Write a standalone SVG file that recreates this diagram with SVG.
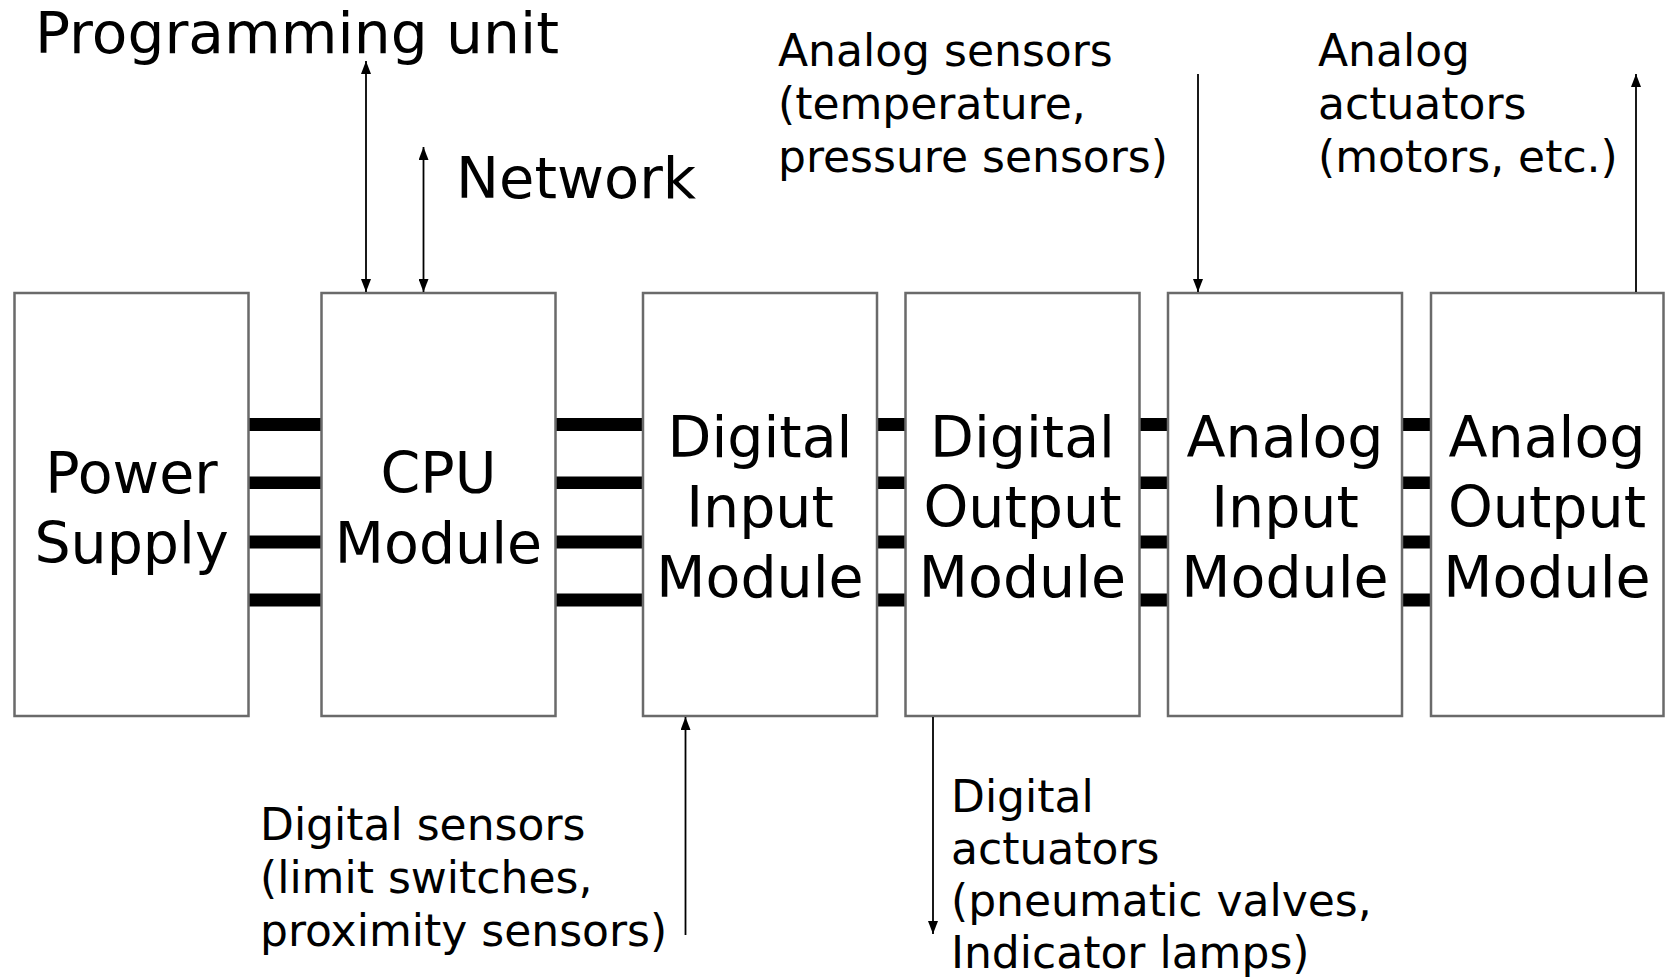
<svg xmlns="http://www.w3.org/2000/svg" width="1665" height="978" viewBox="0 0 1665 978">
<style>
.box{fill:#fff;stroke:#6a6a6a;stroke-width:2.5}
.big{font-family:"DejaVu Sans",Verdana,sans-serif;font-size:57px;fill:#000;text-anchor:middle}
.lbl{font-family:"DejaVu Sans",Verdana,sans-serif;font-size:44px;fill:#000}
.top{font-family:"DejaVu Sans",Verdana,sans-serif;font-size:57.5px;fill:#000}
.bar{fill:#000}
.wire{stroke:#000;stroke-width:1.8;fill:none}
</style>
<defs>
<marker id="ah" viewBox="0 0 13 10" refX="13" refY="5" markerWidth="13" markerHeight="10" markerUnits="userSpaceOnUse" orient="auto-start-reverse">
<path d="M0,0 L13,5 L0,10 z" fill="#000"/>
</marker>
</defs>
<rect width="1665" height="978" fill="#fff"/>

<g id="buses">
<rect class="bar" x="248" y="418" width="73" height="13"/>
<rect class="bar" x="248" y="476.5" width="73" height="12.5"/>
<rect class="bar" x="248" y="535.5" width="73" height="13"/>
<rect class="bar" x="248" y="593.5" width="73" height="13"/>
<rect class="bar" x="555" y="418" width="88" height="13"/>
<rect class="bar" x="555" y="476.5" width="88" height="12.5"/>
<rect class="bar" x="555" y="535.5" width="88" height="13"/>
<rect class="bar" x="555" y="593.5" width="88" height="13"/>
<rect class="bar" x="876" y="418" width="30" height="13"/>
<rect class="bar" x="876" y="476.5" width="30" height="12.5"/>
<rect class="bar" x="876" y="535.5" width="30" height="13"/>
<rect class="bar" x="876" y="593.5" width="30" height="13"/>
<rect class="bar" x="1139" y="418" width="30" height="13"/>
<rect class="bar" x="1139" y="476.5" width="30" height="12.5"/>
<rect class="bar" x="1139" y="535.5" width="30" height="13"/>
<rect class="bar" x="1139" y="593.5" width="30" height="13"/>
<rect class="bar" x="1402" y="418" width="30" height="13"/>
<rect class="bar" x="1402" y="476.5" width="30" height="12.5"/>
<rect class="bar" x="1402" y="535.5" width="30" height="13"/>
<rect class="bar" x="1402" y="593.5" width="30" height="13"/>
</g>

<g id="power-supply">
<rect class="box" x="14.5" y="293" width="234" height="423"/>
<text class="big" x="131.5" y="492.5">Power</text>
<text class="big" x="131.5" y="562.5">Supply</text>
</g>
<g id="cpu-module">
<rect class="box" x="321.5" y="293" width="234" height="423"/>
<text class="big" x="438.5" y="492.5">CPU</text>
<text class="big" x="438.5" y="562.5">Module</text>
</g>
<g id="digital-input-module">
<rect class="box" x="643" y="293" width="234" height="423"/>
<text class="big" x="760" y="457">Digital</text>
<text class="big" x="760" y="527">Input</text>
<text class="big" x="760" y="597">Module</text>
</g>
<g id="digital-output-module">
<rect class="box" x="905.5" y="293" width="234" height="423"/>
<text class="big" x="1022.5" y="457">Digital</text>
<text class="big" x="1022.5" y="527">Output</text>
<text class="big" x="1022.5" y="597">Module</text>
</g>
<g id="analog-input-module">
<rect class="box" x="1168" y="293" width="234" height="423"/>
<text class="big" x="1285" y="457">Analog</text>
<text class="big" x="1285" y="527">Input</text>
<text class="big" x="1285" y="597">Module</text>
</g>
<g id="analog-output-module">
<rect class="box" x="1431" y="293" width="232.5" height="423"/>
<text class="big" x="1547" y="457">Analog</text>
<text class="big" x="1547" y="527">Output</text>
<text class="big" x="1547" y="597">Module</text>
</g>

<g id="programming-unit">
<text class="top" x="35" y="53" textLength="524" lengthAdjust="spacingAndGlyphs">Programming unit</text>
</g>
<g id="network">
<text class="top" x="456" y="198">Network</text>
</g>
<g id="analog-sensors">
<text class="lbl" x="778" y="66">Analog sensors</text>
<text class="lbl" x="778" y="119">(temperature,</text>
<text class="lbl" x="778" y="172">pressure sensors)</text>
</g>
<g id="analog-actuators">
<text class="lbl" x="1318" y="66">Analog</text>
<text class="lbl" x="1318" y="119">actuators</text>
<text class="lbl" x="1318" y="172">(motors, etc.)</text>
</g>
<g id="digital-sensors">
<text class="lbl" x="260" y="840">Digital sensors</text>
<text class="lbl" x="260" y="893">(limit switches,</text>
<text class="lbl" x="260" y="946">proximity sensors)</text>
</g>
<g id="digital-actuators">
<text class="lbl" x="951" y="812">Digital</text>
<text class="lbl" x="951" y="864">actuators</text>
<text class="lbl" x="951" y="916">(pneumatic valves,</text>
<text class="lbl" x="951" y="968">Indicator lamps)</text>
</g>

<g id="connectors">
<line class="wire" x1="366" y1="61" x2="366" y2="292" marker-start="url(#ah)" marker-end="url(#ah)"/>
<line class="wire" x1="423.5" y1="147" x2="423.5" y2="292" marker-start="url(#ah)" marker-end="url(#ah)"/>
<line class="wire" x1="1198" y1="74" x2="1198" y2="292" marker-end="url(#ah)"/>
<line class="wire" x1="1636" y1="292" x2="1636" y2="74" marker-end="url(#ah)"/>
<line class="wire" x1="685.5" y1="935" x2="685.5" y2="717" marker-end="url(#ah)"/>
<line class="wire" x1="933" y1="717" x2="933" y2="934" marker-end="url(#ah)"/>
</g>
</svg>
